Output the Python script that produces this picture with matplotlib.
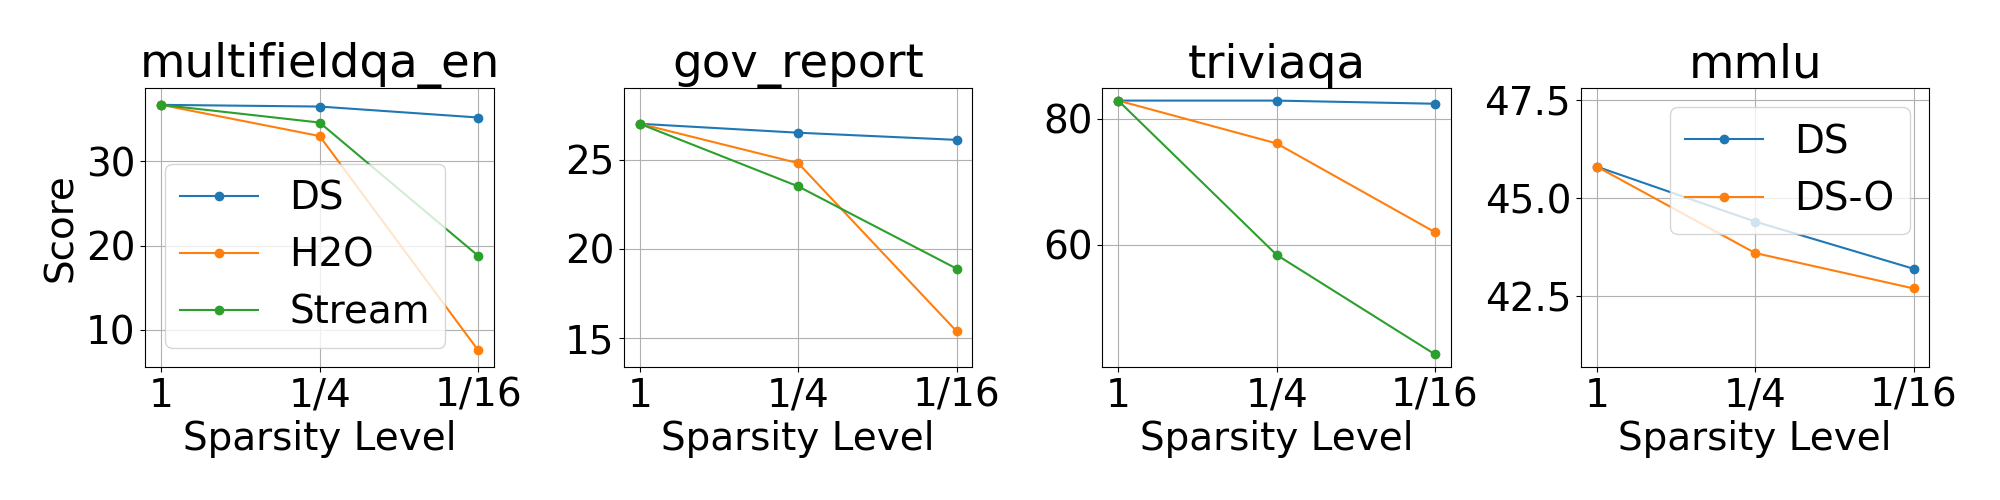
import matplotlib
matplotlib.use("Agg")
import matplotlib.pyplot as plt

plt.rcParams["font.size"] = 28

levels = ["1", "1/4", "1/16"]
tasks = ["multifieldqa_en", "gov_report", "triviaqa", "mmlu"]

multifieldqa_ds = [36.7, 36.5, 35.2]
multifieldqa_h2o = [36.7, 33.0, 7.6]
multifieldqa_stream = [36.7, 34.6, 18.8]

gov_ds = [27.0, 26.5, 26.1]
gov_h2o = [27.0, 24.8, 15.4]
gov_stream = [27.0, 23.5, 18.9]

trivia_ds = [82.9, 82.9, 82.4]
trivia_h2o = [82.9, 76.1, 62.0]
trivia_stream = [82.9, 58.4, 42.6]

mmlu_ds = [45.8, 44.4, 43.2]
mmlu_dso = [45.8, 43.6, 42.7]

panels = [
    {"DS": multifieldqa_ds, "H2O": multifieldqa_h2o, "Stream": multifieldqa_stream},
    {"DS": gov_ds, "H2O": gov_h2o, "Stream": gov_stream},
    {"DS": trivia_ds, "H2O": trivia_h2o, "Stream": trivia_stream},
    {"DS": mmlu_ds, "DS-O": mmlu_dso},
]
legend_loc = ["lower left", None, None, "upper right"]

fig, axes = plt.subplots(1, 4, figsize=(20, 5))
fig.subplots_adjust(left=0.0727, right=0.9647, bottom=0.266, top=0.824, wspace=0.373)

x = list(range(len(levels)))
for i, ax in enumerate(axes):
    series = panels[i]
    lo, hi = 1e9, -1e9
    for name, vals in series.items():
        ax.plot(x, vals, "o-", label=name)
        lo = min(lo, min(vals))
        hi = max(hi, max(vals))
    ax.set_ylim(lo - 2, hi + 2)
    ax.set_xticks(x)
    ax.set_xticklabels(levels)
    ax.set_xlabel("Sparsity Level")
    ax.set_title(tasks[i])
    ax.grid(True)
    if i == 0:
        ax.set_ylabel("Score")
    if legend_loc[i]:
        ax.legend(loc=legend_loc[i])

fig.savefig("out.png", dpi=100)
